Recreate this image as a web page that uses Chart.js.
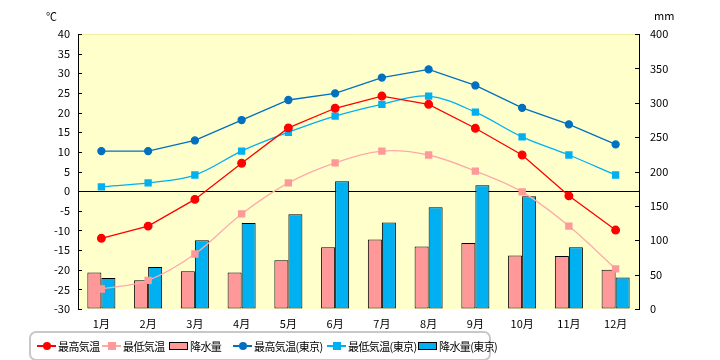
<!DOCTYPE html>
<html><head><meta charset="utf-8">
<script src="https://cdn.jsdelivr.net/npm/chart.js@4/dist/chart.umd.min.js"></script>
<style>
body{margin:0;background:#fff;font-family:"Noto Sans CJK JP",sans-serif;}
#wrap{position:relative;width:720px;height:360px;overflow:hidden;}
canvas{position:absolute;left:0;top:0;}
.lbl{position:absolute;font-size:11px;color:#000;line-height:12px;}
#legend{position:absolute;left:29px;top:331px;width:462px;height:30px;border:2px solid #c8c8c8;border-radius:7px;box-sizing:border-box;}
.item{position:absolute;top:0;height:26px;display:flex;align-items:center;font-size:11px;letter-spacing:-0.6px;white-space:nowrap;}
.mk{position:relative;width:19px;height:12px;margin-right:2px;}
</style></head>
<body><div id="wrap">
<canvas id="c" width="720" height="360"></canvas>
<div class="lbl" style="left:46px;top:10px;">℃</div>
<div class="lbl" style="left:654px;top:9px;">mm</div>
<div id="legend"></div>
</div>
<script>
const months = ['1月','2月','3月','4月','5月','6月','7月','8月','9月','10月','11月','12月'];
const maxTemp = [-12.0,-8.9,-2.1,7.1,16.1,21.1,24.2,22.1,16.0,9.2,-1.2,-9.9];
const minTemp = [-24.9,-22.7,-16.0,-5.8,2.1,7.2,10.2,9.2,5.1,-0.2,-8.9,-19.8];
const precip = [53,42,55,53,71,90,101,91,96,78,77,57];
const tokyoMax = [10.2,10.2,12.9,18.1,23.2,24.9,28.9,31.0,26.9,21.2,17.0,11.9];
const tokyoMin = [1.1,2.1,4.1,10.2,15.0,19.1,22.1,24.2,20.1,13.8,9.2,4.1];
const tokyoPrecip = [45,61,100,125,138,186,126,148,180,164,90,46];
const seriesNames = ['最高気温','最低気温','降水量','最高気温(東京)','最低気温(東京)','降水量(東京)'];
const tempRange = {min:-30, max:40, step:5};
const precipRange = {min:0, max:400, step:50};

Chart.defaults.font.family = '"Noto Sans CJK JP", sans-serif';
Chart.defaults.font.size = 11;
Chart.defaults.color = '#000';

const bgPlugin = {
  id:'bg',
  beforeDraw(chart){
    const {ctx, chartArea:a} = chart;
    ctx.save();
    ctx.fillStyle = '#ffffcc';
    ctx.fillRect(a.left, a.top, a.right-a.left, a.bottom-a.top);
    ctx.strokeStyle = '#f0f0a0';
    ctx.lineWidth = 1;
    ctx.beginPath(); ctx.moveTo(a.left, a.top+0.5); ctx.lineTo(a.right, a.top+0.5); ctx.stroke();
    ctx.restore();
  },
  afterDraw(chart){
    const {ctx, chartArea:a} = chart;
    ctx.save();
    ctx.strokeStyle = '#000'; ctx.lineWidth = 1;
    const y = chart.scales.y, y1 = chart.scales.y1;
    y.ticks.forEach((t,i)=>{const p = Math.round(y.getPixelForTick(i))+0.5;
      ctx.beginPath(); ctx.moveTo(a.left, p); ctx.lineTo(a.left+4, p); ctx.stroke();});
    y1.ticks.forEach((t,i)=>{const p = Math.round(y1.getPixelForTick(i))+0.5;
      ctx.beginPath(); ctx.moveTo(a.right-4, p); ctx.lineTo(a.right, p); ctx.stroke();});
    ctx.restore();
  }
};

const datasets = [
  {type:'line', label:seriesNames[0], data:maxTemp, yAxisID:'y', borderColor:'#ff0000', backgroundColor:'#ff0000',
   borderWidth:1.3, pointRadius:3.8, pointStyle:'circle', tension:0, order:1},
  {type:'line', label:seriesNames[1], data:minTemp, yAxisID:'y', borderColor:'#ffaaaa', backgroundColor:'#ff9999',
   borderWidth:1.3, pointRadius:5.2, pointStyle:'rect', pointBorderWidth:0, tension:0.35, order:1},
  {type:'bar', label:seriesNames[2], data:precip, yAxisID:'y1', backgroundColor:'#ff9999', borderColor:'#000',
   borderWidth:1, borderSkipped:false, order:2, categoryPercentage:0.6, barPercentage:1.0},
  {type:'line', label:seriesNames[3], data:tokyoMax, yAxisID:'y', borderColor:'#0070c0', backgroundColor:'#0070c0',
   borderWidth:1.3, pointRadius:3.5, pointStyle:'circle', tension:0, order:1},
  {type:'line', label:seriesNames[4], data:tokyoMin, yAxisID:'y', borderColor:'#00b0f0', backgroundColor:'#00b0f0',
   borderWidth:1.3, pointRadius:5.2, pointStyle:'rect', pointBorderWidth:0, tension:0.35, order:1},
  {type:'bar', label:seriesNames[5], data:tokyoPrecip, yAxisID:'y1', backgroundColor:'#00b0f0', borderColor:'#000',
   borderWidth:1, borderSkipped:false, order:2, categoryPercentage:0.6, barPercentage:1.0}
];

const chart = new Chart(document.getElementById('c'), {
  data:{labels:months, datasets},
  plugins:[bgPlugin],
  options:{
    responsive:false, animation:false,
    layout:{padding:{top:34,left:0,right:0,bottom:29}},
    plugins:{legend:{display:false}, tooltip:{enabled:false}},
    scales:{
      x:{offset:true, grid:{display:false}, border:{display:false},
         ticks:{padding:0, maxRotation:0, autoSkip:false},
         afterFit(s){s.height=22;}},
      y:{position:'left', min:tempRange.min, max:tempRange.max,
         ticks:{stepSize:tempRange.step, padding:8},
         grid:{drawTicks:false, lineWidth:1, color:(c)=> (c.tick && c.tick.value===0) ? '#000' : 'rgba(0,0,0,0)'},
         border:{display:true, color:'#000', width:1},
         afterFit(s){s.width=78;}},
      y1:{position:'right', min:precipRange.min, max:precipRange.max,
         ticks:{stepSize:precipRange.step, padding:11},
         grid:{drawOnChartArea:false, drawTicks:false},
         border:{display:true, color:'#000', width:1},
         afterFit(s){s.width=81;}}
    }
  }
});

// HTML legend built from the chart datasets
const legendX = [6, 71, 138, 202, 296, 387];
const lg = document.getElementById('legend');
chart.data.datasets.forEach((ds,i)=>{
  const it = document.createElement('div'); it.className='item'; it.style.left = legendX[i]+'px';
  const mk = document.createElement('div'); mk.className='mk';
  if (ds.type==='bar'){
    mk.innerHTML = `<div style="position:absolute;left:0;top:2px;width:19px;height:8px;box-sizing:border-box;border:1.5px solid #000;background:${ds.backgroundColor}"></div>`;
  } else {
    const sq = ds.pointStyle==='rect';
    const sz = 8;
    mk.innerHTML = `<div style="position:absolute;left:0;top:5px;width:19px;height:1.5px;background:${ds.borderColor}"></div>`+
      `<div style="position:absolute;left:${(19-sz)/2}px;top:${(12-sz)/2}px;width:${sz}px;height:${sz}px;background:${ds.backgroundColor};border-radius:${sq?0:50}%"></div>`;
  }
  const tx = document.createElement('span'); tx.textContent = ds.label;
  it.appendChild(mk); it.appendChild(tx); lg.appendChild(it);
});
</script>
</body></html>
